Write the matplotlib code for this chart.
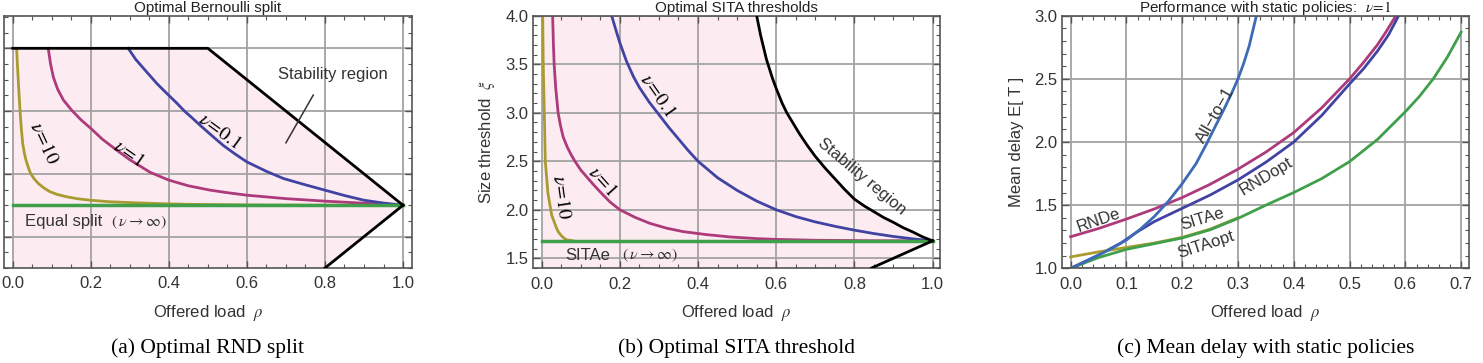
import matplotlib
matplotlib.use("Agg")
import matplotlib.pyplot as plt
from matplotlib.ticker import MultipleLocator

plt.rcParams['font.family'] = ['Liberation Sans', 'DejaVu Sans']
plt.rcParams['mathtext.fontset'] = 'stix'

# ---------------- data: (a) optimal Bernoulli split ----------------
rho_a10 = [0.010, 0.012, 0.015, 0.0187, 0.022, 0.0256, 0.030, 0.034, 0.040, 0.046, 0.055, 0.066,
           0.08, 0.0956, 0.115, 0.138, 0.165, 0.198, 0.25, 0.309, 0.38, 0.45, 0.6, 0.8, 1.0]
p_a10 = [1.0, 0.95, 0.88, 0.803, 0.745, 0.697, 0.665, 0.644, 0.62, 0.601, 0.584, 0.569,
         0.555, 0.543, 0.534, 0.527, 0.521, 0.516, 0.511, 0.508, 0.505, 0.503, 0.501, 0.5, 0.5]
rho_a1 = [0.091, 0.097, 0.104, 0.115, 0.13, 0.151, 0.175, 0.2, 0.23, 0.266, 0.3, 0.352, 0.4,
          0.45, 0.506, 0.55, 0.6, 0.7, 0.8, 0.907, 1.0]
p_a1 = [1.0, 0.95, 0.909, 0.87, 0.835, 0.803, 0.772, 0.745, 0.71, 0.676, 0.645, 0.605, 0.58,
        0.562, 0.548, 0.54, 0.532, 0.521, 0.513, 0.506, 0.5]
rho_a01 = [0.296, 0.315, 0.343, 0.37, 0.395, 0.42, 0.44, 0.46, 0.48, 0.51, 0.54, 0.57, 0.6,
           0.65, 0.694, 0.75, 0.8, 0.85, 0.9, 0.95, 1.0]
p_a01 = [1.0, 0.965, 0.925, 0.887, 0.856, 0.826, 0.80, 0.778, 0.755, 0.722, 0.69, 0.663, 0.638,
         0.608, 0.585, 0.565, 0.548, 0.531, 0.516, 0.507, 0.5]
rho_eq = [0.0, 1.0]
p_eq = [0.5, 0.5]
rho_stab_a = [0.0, 0.5, 1.0, 0.8]
p_stab_a = [1.0, 1.0, 0.5, 0.3]

# ---------------- data: (b) optimal SITA thresholds ----------------
rho_b10 = [0.0026, 0.004, 0.0067, 0.0093, 0.016, 0.0255, 0.038, 0.043, 0.051, 0.058, 0.064, 0.08]
xi_b10 = [4.0, 3.49, 2.995, 2.496, 2.17, 1.946, 1.81, 1.77, 1.73, 1.705, 1.69, 1.68]
rho_b1 = [0.028, 0.03, 0.032, 0.036, 0.042, 0.048, 0.055, 0.065, 0.075, 0.085, 0.1, 0.115, 0.13,
          0.153, 0.175, 0.2, 0.24, 0.277, 0.32, 0.362, 0.42, 0.482, 0.55, 0.6, 0.7, 0.85, 1.0]
xi_b1 = [4.0, 3.7, 3.49, 3.25, 3.0, 2.87, 2.75, 2.65, 2.57, 2.5, 2.41, 2.34, 2.27,
         2.17, 2.08, 2.0, 1.92, 1.86, 1.81, 1.775, 1.745, 1.72, 1.703, 1.695, 1.686, 1.681, 1.68]
rho_b01 = [0.179, 0.19, 0.2, 0.217, 0.235, 0.25, 0.275, 0.3, 0.325, 0.35, 0.375, 0.4, 0.45, 0.5,
           0.55, 0.6, 0.65, 0.7, 0.75, 0.8, 0.85, 0.9, 0.95, 1.0]
xi_b01 = [4.0, 3.85, 3.72, 3.53, 3.37, 3.26, 3.11, 2.98, 2.85, 2.73, 2.61, 2.5, 2.33, 2.2,
          2.09, 2.0, 1.93, 1.875, 1.83, 1.79, 1.755, 1.725, 1.7, 1.68]
rho_sitae = [0.0, 1.0]
xi_sitae = [1.68, 1.68]
rho_stab_b = [0.55, 0.56, 0.575, 0.59, 0.6, 0.615, 0.627, 0.645, 0.66, 0.68, 0.7, 0.725, 0.75,
              0.775, 0.8, 0.825, 0.85, 0.875, 0.9, 0.925, 0.95, 0.975, 1.0]
xi_stab_b = [4.0, 3.8, 3.55, 3.36, 3.25, 3.1, 3.0, 2.88, 2.78, 2.66, 2.55, 2.43, 2.32,
             2.21, 2.11, 2.04, 1.98, 1.92, 1.87, 1.815, 1.77, 1.72, 1.68]
rho_stab_b_low = [1.0, 0.844]
xi_stab_b_low = [1.68, 1.40]

# ---------------- data: (c) mean delay, nu = 1 ----------------
rho_all1 = [0.0, 0.025, 0.05, 0.075, 0.1, 0.125, 0.15, 0.175, 0.2, 0.225, 0.243, 0.26, 0.275,
            0.29, 0.3, 0.31, 0.32, 0.333]
et_all1 = [1.0, 1.05, 1.105, 1.16, 1.224, 1.31, 1.41, 1.53, 1.67, 1.83, 1.98, 2.13, 2.26,
           2.4, 2.5, 2.62, 2.76, 3.0]
rho_rnde = [0.0, 0.05, 0.1, 0.15, 0.2, 0.25, 0.3, 0.35, 0.4, 0.45, 0.5, 0.525, 0.55, 0.565, 0.583]
et_rnde = [1.25, 1.315, 1.39, 1.47, 1.56, 1.665, 1.785, 1.92, 2.075, 2.27, 2.5, 2.63, 2.77, 2.87, 3.0]
rho_rndopt = [0.0, 0.05, 0.09, 0.12, 0.15, 0.2, 0.25, 0.3, 0.35, 0.4, 0.45, 0.5, 0.525, 0.55,
              0.57, 0.588]
et_rndopt = [1.0, 1.105, 1.2, 1.29, 1.37, 1.475, 1.58, 1.70, 1.84, 2.0, 2.21, 2.46, 2.58, 2.72,
             2.85, 3.0]
rho_sitae_c = [0.0, 0.05, 0.1, 0.15, 0.2, 0.25, 0.3]
et_sitae_c = [1.09, 1.13, 1.165, 1.2, 1.245, 1.31, 1.40]
rho_sitaopt = [0.0, 0.05, 0.1, 0.15, 0.2, 0.25, 0.3, 0.35, 0.4, 0.45, 0.5, 0.55, 0.6, 0.625,
               0.65, 0.675, 0.7]
et_sitaopt = [1.0, 1.085, 1.15, 1.195, 1.24, 1.305, 1.395, 1.50, 1.60, 1.71, 1.845, 2.02, 2.24,
              2.36, 2.50, 2.67, 2.87]

C_YEL = '#a99b30'
C_MAG = '#ad3b7c'
C_IND = '#4143a3'
C_GRN = '#3f9f4b'
C_BLU = '#3e6bb8'
PINK = '#fcecf1'
LW = 2.0

fig = plt.figure(figsize=(14.83, 3.63), dpi=100)
W, H = 1483.0, 363.0


def make_ax(l, r, t, b):
    ax = fig.add_axes([l / W, 1 - b / H, (r - l) / W, (b - t) / H])
    for s in ax.spines.values():
        s.set_color('#555555')
        s.set_linewidth(1.2)
    ax.tick_params(which='both', direction='in', top=True, right=True,
                   color='#555555', labelsize=12, labelcolor='#333333')
    ax.tick_params(which='major', length=5, width=1)
    ax.tick_params(which='minor', length=3, width=0.8)
    ax.tick_params(axis='x', pad=6)
    ax.tick_params(axis='y', pad=3)
    ax.grid(True, which='major', color='#a3a3a3', lw=1.3)
    return ax


def labels(ax, title, xlab, ylab, caption, cx):
    # titles sit right at the top edge, as in the original
    ax.text(0.5, 1.014, title, transform=ax.transAxes, ha='center',
            va='baseline', fontsize=11, color='#222222')
    ax.text(0.5, -0.177, xlab, transform=ax.transAxes, ha='center',
            va='center', fontsize=12, color='#333333')
    if ylab:
        ax.text(-0.112, 0.5, ylab, transform=ax.transAxes, ha='center',
                va='center', rotation=90, fontsize=12, color='#333333')
    fig.text(cx / W, 1 - 353.5 / H, caption, ha='center', va='baseline',
             fontsize=15.5, family=['Liberation Serif', 'DejaVu Serif'])


# ---------------- (a) ----------------
ax = make_ax(4, 412, 16, 268)
ax.set_xlim(-0.0223, 1.023)
ax.set_ylim(0.30, 1.103)
ax.xaxis.set_minor_locator(MultipleLocator(0.05))
ax.yaxis.set_major_locator(MultipleLocator(0.2))
ax.yaxis.set_minor_locator(MultipleLocator(0.05))
ax.set_xticks([0, 0.2, 0.4, 0.6, 0.8, 1.0], ['0.0', '0.2', '0.4', '0.6', '0.8', '1.0'])
ax.tick_params(axis='y', labelleft=False)
ax.fill([0.0] + rho_stab_a + [0.0], [p_stab_a[-1]] + p_stab_a + [p_stab_a[-1]],
        color=PINK, lw=0, zorder=0)
ax.plot(rho_stab_a[:3], p_stab_a[:3], color='black', lw=LW, zorder=3)
ax.plot(rho_stab_a[2:], p_stab_a[2:], color='black', lw=LW, zorder=3)
ax.plot(rho_a10, p_a10, color=C_YEL, lw=LW)
ax.plot(rho_a1, p_a1, color=C_MAG, lw=LW)
ax.plot(rho_a01, p_a01, color=C_IND, lw=LW)
ax.plot(rho_eq, p_eq, color=C_GRN, lw=LW + 0.5)
ax.text(0.080, 0.699, r'$\nu\!=\!10$', rotation=-65, fontsize=14, ha='center', va='center')
ax.text(0.296, 0.665, r'$\nu\!=\!1$', rotation=-35, fontsize=14, ha='center', va='center')
ax.text(0.529, 0.734, r'$\nu\!=\!0.1$', rotation=-36, fontsize=14, ha='center', va='center')
ax.text(0.032, 0.447, 'Equal split', fontsize=12, ha='left', va='center', color='#333333')
ax.text(0.252, 0.447, r'$(\,\nu \rightarrow \infty)$', fontsize=11.5, ha='left', va='center', color='#333333')
ax.text(0.821, 0.918, 'Stability region', fontsize=12, ha='center', va='center', color='#333333')
ax.plot([0.770, 0.700], [0.851, 0.699], color='#333333', lw=1.1, zorder=4)
labels(ax, 'Optimal Bernoulli split', r'Offered load  $\rho$', None,
       '(a) Optimal RND split', 208)

# ---------------- (b) ----------------
ax = make_ax(532.7, 940, 15.7, 268.3)
ax.set_xlim(-0.023, 1.019)
ax.set_ylim(1.397, 4.0)
ax.set_xticks([0, 0.2, 0.4, 0.6, 0.8, 1.0], ['0.0', '0.2', '0.4', '0.6', '0.8', '1.0'])
ax.xaxis.set_minor_locator(MultipleLocator(0.05))
ax.set_yticks([1.5, 2.0, 2.5, 3.0, 3.5, 4.0], ['1.5', '2.0', '2.5', '3.0', '3.5', '4.0'])
ax.yaxis.set_minor_locator(MultipleLocator(0.1))
fx = [0.0, 0.0] + rho_stab_b + rho_stab_b_low[1:]
fy = [xi_stab_b_low[-1], xi_stab_b[0]] + xi_stab_b + xi_stab_b_low[1:]
ax.fill(fx, fy, color=PINK, lw=0, zorder=0)
ax.plot(rho_stab_b, xi_stab_b, color='black', lw=LW, zorder=3)
ax.plot(rho_stab_b_low, xi_stab_b_low, color='black', lw=LW, zorder=3)
ax.plot(rho_b10, xi_b10, color=C_YEL, lw=LW)
ax.plot(rho_b1, xi_b1, color=C_MAG, lw=LW)
ax.plot(rho_b01, xi_b01, color=C_IND, lw=LW)
ax.plot(rho_sitae, xi_sitae, color=C_GRN, lw=LW + 0.5)
ax.text(0.0486, 2.135, r'$\nu\!=\!10$', rotation=-82, fontsize=14, ha='center', va='center')
ax.text(0.155, 2.29, r'$\nu\!=\!1$', rotation=-48, fontsize=14, ha='center', va='center')
ax.text(0.296, 3.173, r'$\nu\!=\!0.1$', rotation=-55, fontsize=14, ha='center', va='center')
ax.text(0.818, 2.34, 'Stability region', rotation=-40, fontsize=12, ha='center', va='center', color='#333333')
ax.text(0.06, 1.534, 'SITAe', fontsize=12, ha='left', va='center', color='#333333')
ax.text(0.205, 1.534, r'$(\,\nu \rightarrow \infty)$', fontsize=11.5, ha='left', va='center', color='#333333')
labels(ax, 'Optimal SITA thresholds', r'Offered load  $\rho$', r'Size threshold  $\xi$',
       '(b) Optimal SITA threshold', 736.4)

# ---------------- (c) ----------------
ax = make_ax(1061.7, 1469.3, 15.7, 268.3)
ax.set_xlim(-0.016, 0.7146)
ax.set_ylim(1.0, 3.0)
ax.set_xticks([0, 0.1, 0.2, 0.3, 0.4, 0.5, 0.6, 0.7],
              ['0.0', '0.1', '0.2', '0.3', '0.4', '0.5', '0.6', '0.7'])
ax.xaxis.set_minor_locator(MultipleLocator(0.02))
ax.set_yticks([1.0, 1.5, 2.0, 2.5, 3.0], ['1.0', '1.5', '2.0', '2.5', '3.0'])
ax.yaxis.set_minor_locator(MultipleLocator(0.1))
ax.plot(rho_rnde, et_rnde, color=C_MAG, lw=LW)
ax.plot(rho_rndopt, et_rndopt, color=C_IND, lw=LW)
ax.plot(rho_sitae_c, et_sitae_c, color=C_YEL, lw=LW)
ax.plot(rho_sitaopt, et_sitaopt, color=C_GRN, lw=LW)
ax.plot(rho_all1, et_all1, color=C_BLU, lw=LW)
ax.text(0.259, 2.214, 'All\u2212to\u22121', rotation=60, fontsize=12, ha='center', va='center', color='#333333')
ax.text(0.0496, 1.377, 'RNDe', rotation=19, fontsize=12, ha='center', va='center', color='#333333')
ax.text(0.236, 1.39, 'SITAe', rotation=17, fontsize=12, ha='center', va='center', color='#333333')
ax.text(0.242, 1.184, 'SITAopt', rotation=18, fontsize=12, ha='center', va='center', color='#333333')
ax.text(0.351, 1.725, 'RNDopt', rotation=31, fontsize=12, ha='center', va='center', color='#333333')
labels(ax, r'Performance with static policies:  $\nu\!=\!1$', r'Offered load  $\rho$',
       'Mean delay E[ T ]', '(c) Mean delay with static policies', 1265.5)

fig.savefig('out.png', dpi=100)
